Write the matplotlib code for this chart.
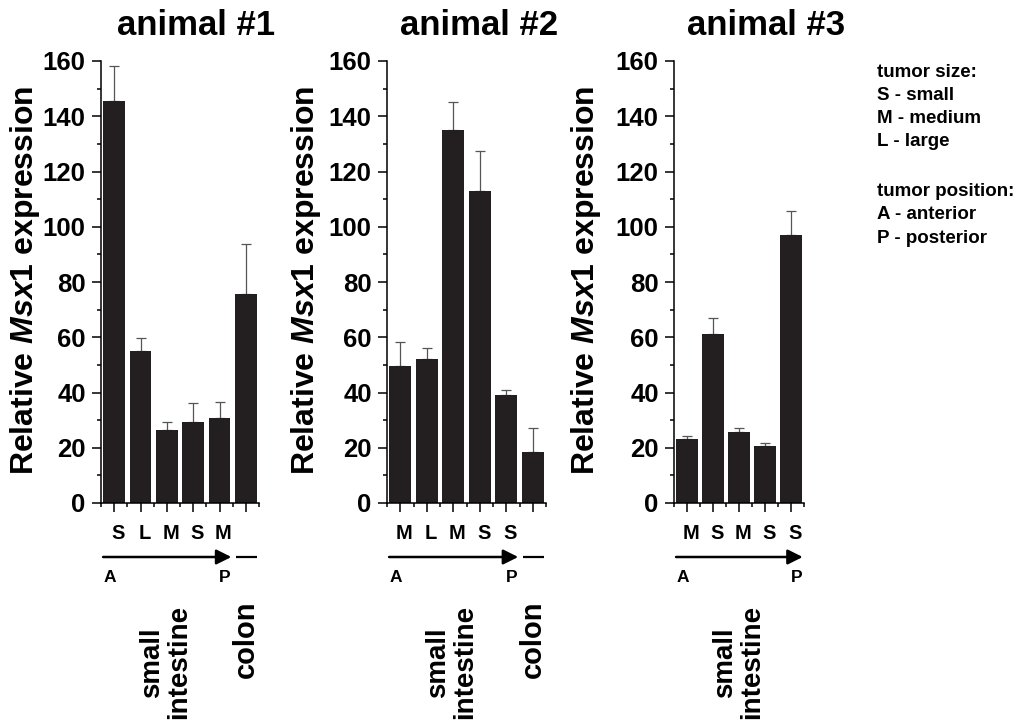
import matplotlib
matplotlib.use("Agg")
import matplotlib.pyplot as plt
from matplotlib.transforms import blended_transform_factory
from matplotlib.ticker import MultipleLocator, FixedLocator

plt.rcParams['font.family'] = ['Liberation Sans', 'DejaVu Sans']
plt.rcParams['font.weight'] = 'bold'
plt.rcParams['mathtext.fontset'] = 'custom'
plt.rcParams['mathtext.rm'] = 'Liberation Sans:bold'
plt.rcParams['mathtext.it'] = 'Liberation Sans:italic:bold'
plt.rcParams['mathtext.bf'] = 'Liberation Sans:bold'

# ---- data ----
titles = ["animal #1", "animal #2", "animal #3"]
sizes1 = ["S", "L", "M", "S", "M"]
sizes2 = ["M", "L", "M", "S", "S"]
sizes3 = ["M", "S", "M", "S", "S"]
values1 = [145.4, 55.0, 26.4, 29.4, 30.8, 75.5]
errtop1 = [158.3, 59.8, 29.4, 36.1, 36.6, 93.6]
values2 = [49.7, 52.0, 135.1, 112.9, 39.1, 18.4]
errtop2 = [58.3, 56.2, 145.2, 127.4, 41.0, 27.1]
values3 = [23.3, 61.3, 25.7, 20.5, 97.1]
errtop3 = [24.3, 67.1, 27.3, 21.7, 105.6]
has_colon = [True, True, False]
legend_size = ["tumor size:", "S - small", "M - medium", "L - large"]
legend_pos = ["tumor position:", "A - anterior", "P - posterior"]

W, H = 1033, 728
fig = plt.figure(figsize=(W / 100, H / 100), dpi=100)

def fx(px):
    return px / W

def fy(py):
    return 1 - py / H

bar_color = "#231f20"
axes_px = [(101, 259), (387, 546), (674, 804)]
ylab_right = [42, 323, 603]
title_cx = [196.5, 479.5, 766.5]
panels = [(values1, errtop1, sizes1), (values2, errtop2, sizes2), (values3, errtop3, sizes3)]
y0_px, y160_px = 503, 61

for i, ((vals, tops, sizes), (l, r)) in enumerate(zip(panels, axes_px)):
    ax = fig.add_axes([fx(l), fy(y0_px), fx(r - l), (y0_px - y160_px) / H])
    n = len(vals)
    x = list(range(n))
    errs = [t - v for t, v in zip(tops, vals)]
    ax.bar(x, vals, width=0.83, color=bar_color, edgecolor='none', zorder=2)
    ax.errorbar(x, vals, yerr=[[0] * n, errs], fmt='none', ecolor='#555555',
                elinewidth=0.9, capsize=3.6, capthick=0.9, zorder=1)
    ax.set_xlim(-0.5, n - 0.5)
    ax.set_ylim(0, 160)
    for s in ['top', 'right']:
        ax.spines[s].set_visible(False)
    for s in ['left', 'bottom']:
        ax.spines[s].set_linewidth(1.1)
    ax.yaxis.set_major_locator(MultipleLocator(20))
    ax.yaxis.set_minor_locator(MultipleLocator(10))
    ax.xaxis.set_major_locator(FixedLocator(x))
    ax.xaxis.set_minor_locator(FixedLocator([k - 0.5 for k in range(n + 1)]))
    ax.set_xticklabels([])
    ax.tick_params(which='major', length=6.5, width=1.1, direction='out')
    ax.tick_params(which='minor', length=3.2, width=1.1, direction='out')
    ax.tick_params(axis='y', labelsize=18.5, pad=4.5)
    for lab in ax.get_yticklabels():
        lab.set_fontweight('bold')
    ax.set_ylabel(r"Relative $\mathit{Msx1}$ expression", fontsize=23, fontweight='bold')
    ax.yaxis.set_label_coords(fx(ylab_right[i]), fy(280), transform=fig.transFigure)

    fig.text(fx(title_cx[i]), fy(35), titles[i], ha='center', va='baseline',
             fontsize=25, fontweight='bold')

    tr = blended_transform_factory(ax.transData, fig.transFigure)
    for k, s in enumerate(sizes):
        ax.text(k + 0.15, fy(539), s, transform=tr, ha='center', va='baseline',
                fontsize=14.5, fontweight='bold', clip_on=False)
    nsi = len(sizes)
    x_end = nsi - 0.55
    ax.annotate('', xy=(x_end, fy(557)), xytext=(-0.42, fy(557)),
                xycoords=tr, textcoords=tr,
                arrowprops=dict(arrowstyle='-|>,head_length=0.6,head_width=0.3',
                                mutation_scale=15, lw=1.8, color='black',
                                shrinkA=0, shrinkB=0))
    ax.text(-0.15, fy(582), "A", transform=tr, ha='center', va='baseline',
            fontsize=12.5, fontweight='bold')
    ax.text(nsi - 0.8, fy(582), "P", transform=tr, ha='center', va='baseline',
            fontsize=12.5, fontweight='bold')
    if has_colon[i]:
        ax.plot([4.63, 5.43], [fy(557), fy(557)], transform=tr, color='black',
                lw=1.6, clip_on=False, solid_capstyle='butt')
        ax.text(5.0, fy(600), "colon", transform=tr, rotation=90, ha='center',
                va='top', fontsize=21, fontweight='bold')
    # small intestine labels
    off = l - 101
    fig.text(fx(152 + off), fy(663), "small", rotation=90, ha='center', va='center',
             fontsize=20, fontweight='bold')
    fig.text(fx(179.5 + off), fy(662), "intestine", rotation=90, ha='center', va='center',
             fontsize=20, fontweight='bold')

# legend text
base_y = [77, 100, 123, 146]
for t, yb in zip(legend_size, base_y):
    fig.text(fx(877), fy(yb), t, ha='left', va='baseline', fontsize=13.5, fontweight='bold')
base_y2 = [196, 219, 243]
for t, yb in zip(legend_pos, base_y2):
    fig.text(fx(877), fy(yb), t, ha='left', va='baseline', fontsize=13.5, fontweight='bold')

fig.savefig("out.png", dpi=100)
